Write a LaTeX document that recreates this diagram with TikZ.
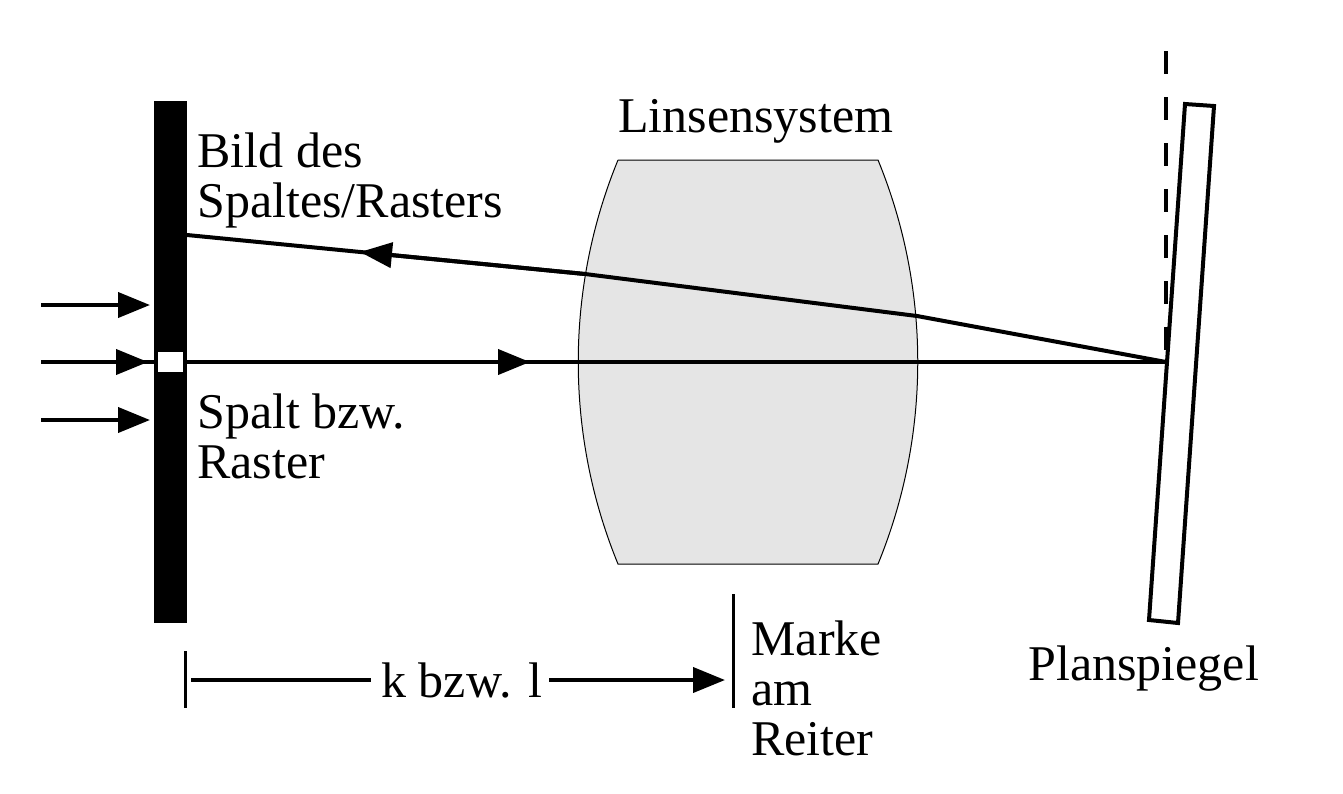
\documentclass[tikz,border=0pt]{standalone}
\usepackage{fontspec}
\setmainfont{Liberation Serif}
\usetikzlibrary{arrows.meta}
\tikzset{
    ray/.style={line width=2pt},
    rayarrow/.style={line width=2pt, -{Triangle[length=16pt,width=12.5pt]}},
    beschriftung/.style={inner sep=0pt, anchor=base west, align=left, font=\fontsize{25}{25}\selectfont},
    marke/.style={line width=1.5pt}
}

\begin{document}
\begin{tikzpicture}[x=0.5pt,y=-0.5pt]
        \useasboundingbox (0,0) rectangle (1343,793);

        % Linsensystem
        \draw[fill=black!10, line width=0.5pt] (618,160) -- (878,160)
            .. controls (931,289) and (931,435) .. (878,564) -- (618,564)
            .. controls (565,435) and (565,289) .. (618,160);

        % Blende und Spalt
        \node[fill=black, inner sep=0pt, minimum width=16.5pt, minimum height=261pt](blende) at (170.5,362) {};
        \node[fill=white, inner sep=0pt, minimum width=12.5pt, minimum height=10pt](spalt) at (170.5,362) {};

        % Spiegel
        \coordinate (auftreff) at (1166,362);
        \draw[ray, dash pattern=on 11.5pt off 11.5pt] (1166,51) -- (auftreff);
        \draw[ray] (1185,104) -- (1214,106) -- (1178,623) -- (1149,620) -- cycle;

        % einfallende Strahlen
        \foreach \y in {305,420} {
                \coordinate (start-\y) at (41,\y);
                \coordinate (ziel-\y) at (150,\y);
                \draw[rayarrow] (start-\y) -- (ziel-\y);
            }
        \coordinate (start-mitte) at (41,362);
        \coordinate (ziel-mitte) at (148,362);
        \draw[ray] (start-mitte) -- (spalt.west);
        \draw[rayarrow] (start-mitte) -- (ziel-mitte);

        % Hinweg
        \coordinate (pfeil-hin) at (530,362);
        \draw[ray] (spalt.east) -- (auftreff);
        \draw[rayarrow] (spalt.east) -- (pfeil-hin);

        % Rueckweg
        \coordinate (knick-a) at (917,316);
        \coordinate (knick-b) at (585,274);
        \coordinate (pfeil-rueck) at (360,252);
        \coordinate (bild) at (187,235);
        \draw[ray] (auftreff) -- (knick-a) -- (knick-b) -- (bild);
        \draw[rayarrow] (knick-b) -- (pfeil-rueck);

        % Beschriftung
        \node[beschriftung](linsen) at (618,132) {Linsensystem};
        \node[beschriftung](bildtext) at (197,217) {Bild des\\Spaltes/Rasters};
        \node[beschriftung](spalttext) at (197,478) {Spalt bzw.\\Raster};
        \node[beschriftung](spiegeltext) at (1028,680) {Planspiegel};
        \node[beschriftung](reitertext) at (751,755) {Marke\\am\\Reiter};

        % Abstand k bzw. l
        \coordinate (strich-a) at (185,651);
        \coordinate (strich-a2) at (185,708);
        \coordinate (strich-b) at (733,594);
        \coordinate (strich-b2) at (733,708);
        \draw[marke] (strich-a) -- (strich-a2);
        \draw[marke] (strich-b) -- (strich-b2);
        \node[beschriftung](abstand) at (381,697) {k bzw. l};
        \coordinate (abstand-l) at (191,680);
        \coordinate (abstand-m) at (371,680);
        \coordinate (abstand-n) at (549,680);
        \coordinate (abstand-r) at (725,680);
        \draw[ray] (abstand-l) -- (abstand-m);
        \draw[rayarrow] (abstand-n) -- (abstand-r);
    \end{tikzpicture}
\end{document}
